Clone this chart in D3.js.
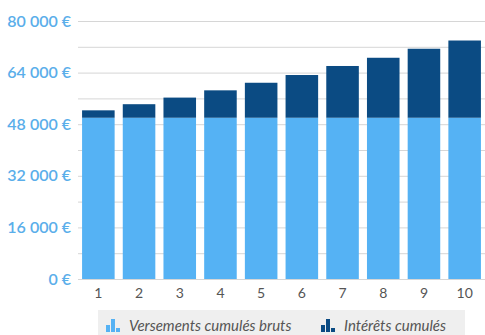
<!DOCTYPE html>
<html><head><meta charset="utf-8">
<script src="https://cdn.jsdelivr.net/npm/d3@7"></script>
<style>body{margin:0;background:#fff}svg{display:block}</style>
</head><body>
<svg id="c" width="485" height="335"></svg>
<script>
const years = ["1","2","3","4","5","6","7","8","9","10"];
const versements = [50000,50000,50000,50000,50000,50000,50000,50000,50000,50000];
const interets = [2300,4200,6250,8500,10850,13250,16050,18600,21400,23950];
const yTicks = [0,16000,32000,48000,64000,80000];
const gridTicks = [0,8000,16000,24000,32000,40000,48000,56000,64000,72000,80000];
const seriesNames = ["Versements cumulés bruts","Intérêts cumulés"];
const colors = ["#55b2f4","#0b4b83"];

const svg = d3.select("#c");
const x = d3.scaleBand().domain(years).range([78,485]).paddingInner(0.2).paddingOuter(0.1);
const y = d3.scaleLinear().domain([0,80000]).range([279,21]);
const fmt = v => d3.format(",")(v).replace(/,/g,"\u202f") + " €";

svg.append("g").selectAll("line").data(gridTicks).join("line")
  .attr("x1",78).attr("x2",485).attr("y1",d=>y(d)+0.5).attr("y2",d=>y(d)+0.5)
  .attr("stroke","#d6d6d6").attr("stroke-width",1);

const yAxis = svg.append("g").attr("transform","translate(71,0)")
  .call(d3.axisLeft(y).tickValues(yTicks).tickFormat(fmt).tickSize(0).tickPadding(0));
yAxis.select(".domain").remove();
yAxis.selectAll("text").attr("fill","#5aaeea").attr("font-family","Lato").attr("font-size","16px").attr("font-weight","600");

const stack = years.map((k,i)=>({k, v0:versements[i], v1:interets[i]}));
svg.append("g").selectAll("rect").data(stack).join("rect")
  .attr("x",d=>x(d.k)).attr("width",x.bandwidth())
  .attr("y",d=>y(d.v0)).attr("height",d=>y(0)-y(d.v0)).attr("fill",colors[0]);
svg.append("g").selectAll("rect").data(stack).join("rect")
  .attr("x",d=>x(d.k)).attr("width",x.bandwidth())
  .attr("y",d=>y(d.v0+d.v1)).attr("height",d=>y(d.v0)-y(d.v0+d.v1)).attr("fill",colors[1]);

const xAxis = svg.append("g").attr("transform","translate(0,279)")
  .call(d3.axisBottom(x).tickSize(0).tickPadding(9));
xAxis.select(".domain").remove();
xAxis.selectAll("text").attr("fill","#555").attr("font-family","Lato").attr("font-size","14px");

// legend
const lg = svg.append("g");
lg.append("rect").attr("x",98).attr("y",310).attr("width",367).attr("height",30).attr("fill","#efefef");
const items = [{x:106,tx:129},{x:321,tx:344}];
items.forEach((it,i)=>{
  const g = lg.append("g");
  [[0,7],[5,13],[10,4]].forEach(([dx,h])=>{
    g.append("rect").attr("x",it.x+dx).attr("y",332-h).attr("width",4).attr("height",h).attr("fill",colors[i]);
  });
  g.append("text").attr("x",it.tx).attr("y",331).text(seriesNames[i])
    .attr("font-family","Lato").attr("font-style","italic").attr("font-size","15px").attr("fill","#555");
});
</script>
</body></html>
